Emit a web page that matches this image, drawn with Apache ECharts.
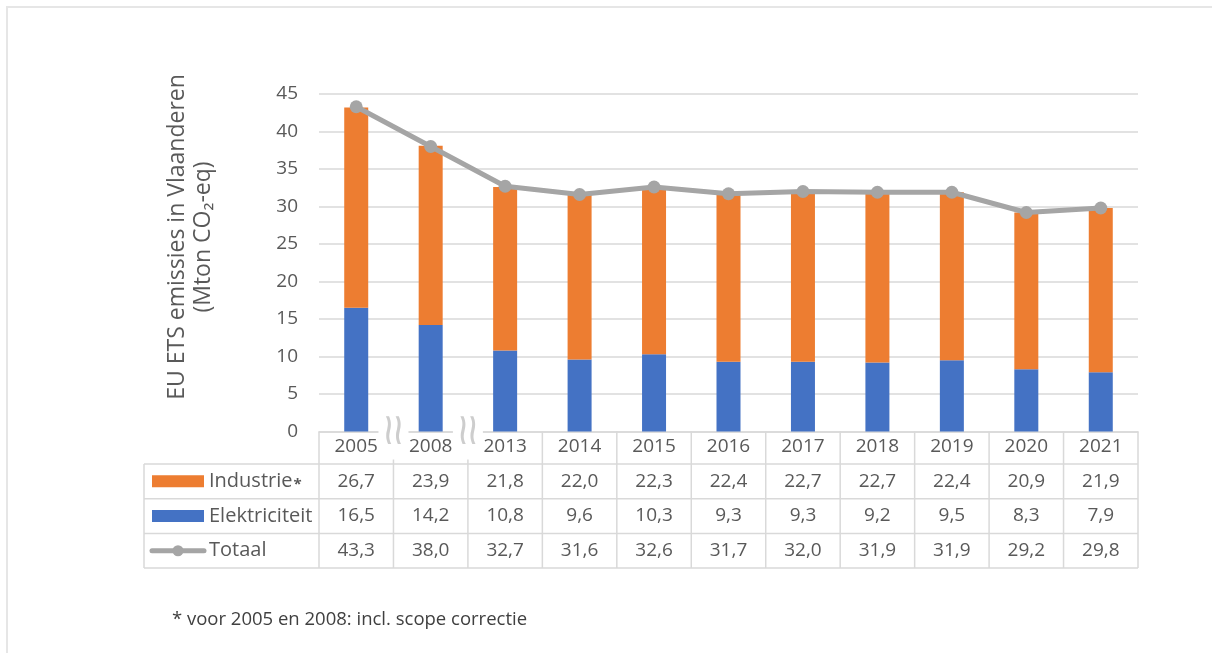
<!DOCTYPE html>
<html>
<head>
<meta charset="utf-8">
<script src="https://cdn.jsdelivr.net/npm/echarts@6/dist/echarts.min.js"></script>
<style>
  html, body { margin: 0; padding: 0; background: #fff; }
  #chart { width: 1212px; height: 653px; }
</style>
</head>
<body>
<div id="chart"></div>
<script>
// data
var years = ['2005', '2008', '2013', '2014', '2015', '2016', '2017', '2018', '2019', '2020', '2021'];
var industrie = [26.7, 23.9, 21.8, 22.0, 22.3, 22.4, 22.7, 22.7, 22.4, 20.9, 21.9];
var elektriciteit = [16.5, 14.2, 10.8, 9.6, 10.3, 9.3, 9.3, 9.2, 9.5, 8.3, 7.9];
var totaal = [43.3, 38.0, 32.7, 31.6, 32.6, 31.7, 32.0, 31.9, 31.9, 29.2, 29.8];
var yTicks = [0, 45, 5]; // min, max, interval

var FONT = '"Open Sans", "Noto Sans", sans-serif';
var TXT = '#595959';
var LINE = '#d9d9d9';
var C_IND = '#ED7D31', C_ELEK = '#4472C4', C_TOT = '#A5A5A5';

function fmt(v) { return v.toFixed(1).replace('.', ','); }

var myChart = echarts.init(document.getElementById('chart'));

myChart.setOption({
    animation: false,
    textStyle: { fontFamily: FONT },
    grid: { left: 319, right: 74, top: 94, bottom: 221.5, containLabel: false },
    xAxis: {
        type: 'category',
        data: years,
        axisLine: { lineStyle: { color: LINE, width: 1.5 } },
        axisTick: { show: false },
        axisLabel: { color: TXT, fontSize: 19, margin: 6, fontFamily: FONT }
    },
    yAxis: {
        type: 'value',
        min: yTicks[0],
        max: yTicks[1],
        interval: yTicks[2],
        axisLine: { show: false },
        axisTick: { show: false },
        axisLabel: { color: TXT, fontSize: 19, margin: 21, fontFamily: FONT },
        splitLine: { lineStyle: { color: LINE, width: 1.5 } }
    },
    series: [
        {
            name: 'Elektriciteit',
            type: 'bar',
            stack: 'ets',
            barWidth: 24,
            itemStyle: { color: C_ELEK },
            data: elektriciteit
        },
        {
            name: 'Industrie',
            type: 'bar',
            stack: 'ets',
            barWidth: 24,
            itemStyle: { color: C_IND },
            data: industrie
        },
        {
            name: 'Totaal',
            type: 'line',
            symbol: 'circle',
            symbolSize: 13,
            z: 5,
            lineStyle: { color: C_TOT, width: 5 },
            itemStyle: { color: C_TOT },
            data: totaal
        }
    ]
});

// data table + decorations, placed from the axis scale
var elems = [];
var centers = years.map(function (y, i) { return myChart.convertToPixel({ xAxisIndex: 0 }, i); });
var cw = centers[1] - centers[0];
var gx0 = centers[0] - cw / 2;
var gx1 = centers[centers.length - 1] + cw / 2;
var y0 = myChart.convertToPixel({ yAxisIndex: 0 }, 0);
var tableLeft = 144;
var rowTop = 464, rowH = 34.7;
var rowsY = [rowTop, rowTop + rowH, rowTop + 2 * rowH, rowTop + 3 * rowH];
var lineStyle = { stroke: LINE, lineWidth: 1.5 };

// horizontal lines
rowsY.forEach(function (y) {
    elems.push({ type: 'line', shape: { x1: tableLeft, y1: y, x2: gx1, y2: y }, style: lineStyle, silent: true });
});
// vertical lines
elems.push({ type: 'line', shape: { x1: tableLeft, y1: rowsY[0], x2: tableLeft, y2: rowsY[3] }, style: lineStyle });
for (var i = 0; i <= years.length; i++) {
    var bx = gx0 + i * cw;
    elems.push({ type: 'line', shape: { x1: bx, y1: y0, x2: bx, y2: rowsY[3] }, style: lineStyle });
}

// values
var rows = [industrie, elektriciteit, totaal];
rows.forEach(function (arr, r) {
    arr.forEach(function (v, i) {
        elems.push({
            type: 'text', x: centers[i], y: rowsY[r] + rowH / 2,
            style: { text: fmt(v), fill: TXT, font: '19px ' + FONT, textAlign: 'center', textVerticalAlign: 'middle' }
        });
    });
});

// legend keys inside the table
var names = ['Industrie', 'Elektriciteit', 'Totaal'];
names.forEach(function (n, r) {
    var cy = rowsY[r] + rowH / 2;
    if (r < 2) {
        elems.push({ type: 'rect', shape: { x: 152, y: cy - 6, width: 52, height: 12 }, style: { fill: r === 0 ? C_IND : C_ELEK } });
    } else {
        elems.push({ type: 'line', shape: { x1: 152, y1: cy, x2: 204, y2: cy }, style: { stroke: C_TOT, lineWidth: 5, lineCap: 'round' } });
        elems.push({ type: 'circle', shape: { cx: 178, cy: cy, r: 5.5 }, style: { fill: C_TOT } });
    }
    elems.push({
        type: 'text', x: 209, y: cy,
        style: {
            text: r === 0 ? '{t|' + n + '}{s|*}' : n,
            fill: TXT, font: '20px ' + FONT, textAlign: 'left', textVerticalAlign: 'middle',
            rich: {
                t: { fill: TXT, font: '20px ' + FONT },
                s: { fill: TXT, font: 'bold 15px ' + FONT, padding: [6, 0, 0, 1] }
            }
        }
    });
});

// axis break marks between 2005|2008 and 2008|2013
[1, 2].forEach(function (k) {
    var bx = gx0 + k * cw;
    elems.push({ type: 'rect', z: 100, shape: { x: bx - 15, y: y0 - 12, width: 30, height: 40 }, style: { fill: '#fff' } });
    elems.push({
        type: 'text', z: 101, x: bx, y: y0 + 1, scaleX: 1, scaleY: 1.7,
        style: { text: '\u2240\u2240', fill: '#cdcdcd', font: 'bold 26px "DejaVu Sans"', textAlign: 'center', textVerticalAlign: 'middle' }
    });
});

// y axis title
elems.push({
    type: 'text', x: 177, y: 237, rotation: Math.PI / 2,
    style: { text: 'EU ETS emissies in Vlaanderen', fill: TXT, font: '23px ' + FONT, textAlign: 'center', textVerticalAlign: 'middle' }
});
elems.push({
    type: 'text', x: 203, y: 237, rotation: Math.PI / 2,
    style: { text: '(Mton CO\u2082-eq)', fill: TXT, font: '23px ' + FONT, textAlign: 'center', textVerticalAlign: 'middle' }
});

// footnote
elems.push({
    type: 'text', x: 172, y: 620,
    style: { text: '* voor 2005 en 2008: incl. scope correctie', fill: '#404040', font: '18.5px ' + FONT, textAlign: 'left', textVerticalAlign: 'middle' }
});

// frame
elems.push({ type: 'line', shape: { x1: 6, y1: 7, x2: 1212, y2: 7 }, style: { stroke: '#e6e6e6', lineWidth: 2 } });
elems.push({ type: 'line', shape: { x1: 7, y1: 7, x2: 7, y2: 653 }, style: { stroke: '#e6e6e6', lineWidth: 2 } });

myChart.setOption({ graphic: { elements: elems } });
</script>
</body>
</html>
